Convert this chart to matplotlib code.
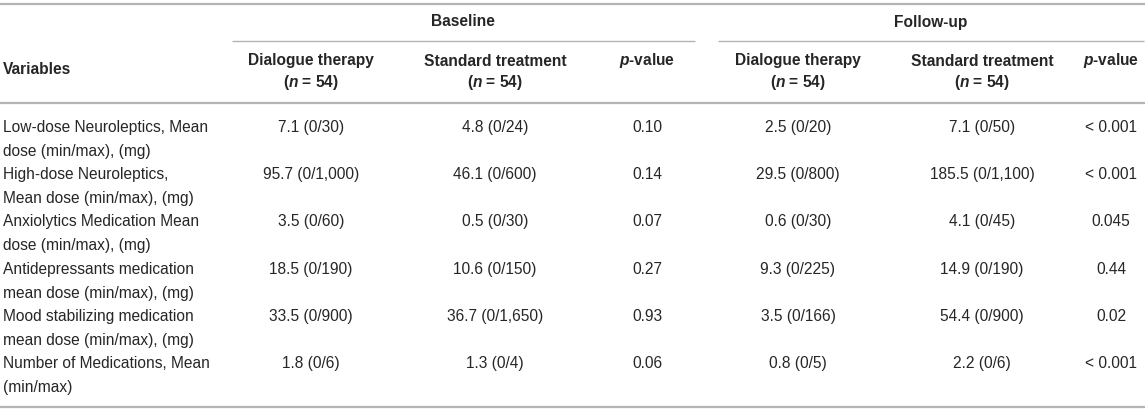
import matplotlib.pyplot as plt

plt.rcParams['font.family'] = ['Liberation Sans', 'DejaVu Sans']
plt.rcParams['mathtext.fontset'] = 'custom'
plt.rcParams['mathtext.it'] = 'Liberation Sans:italic:bold'
plt.rcParams['mathtext.rm'] = 'Liberation Sans:bold'

# table content
groups = ['Baseline', 'Follow-up']
col_heads = ['Dialogue therapy\n($\\mathit{n}$ = 54)', 'Standard treatment\n($\\mathit{n}$ = 54)', '$\\mathit{p}$-value']
variables = [
    'Low-dose Neuroleptics, Mean\ndose (min/max), (mg)',
    'High-dose Neuroleptics,\nMean dose (min/max), (mg)',
    'Anxiolytics Medication Mean\ndose (min/max), (mg)',
    'Antidepressants medication\nmean dose (min/max), (mg)',
    'Mood stabilizing medication\nmean dose (min/max), (mg)',
    'Number of Medications, Mean\n(min/max)',
]
base_dialogue = ['7.1 (0/30)', '95.7 (0/1,000)', '3.5 (0/60)', '18.5 (0/190)', '33.5 (0/900)', '1.8 (0/6)']
base_standard = ['4.8 (0/24)', '46.1 (0/600)', '0.5 (0/30)', '10.6 (0/150)', '36.7 (0/1,650)', '1.3 (0/4)']
base_p = ['0.10', '0.14', '0.07', '0.27', '0.93', '0.06']
fu_dialogue = ['2.5 (0/20)', '29.5 (0/800)', '0.6 (0/30)', '9.3 (0/225)', '3.5 (0/166)', '0.8 (0/5)']
fu_standard = ['7.1 (0/50)', '185.5 (0/1,100)', '4.1 (0/45)', '14.9 (0/190)', '54.4 (0/900)', '2.2 (0/6)']
fu_p = ['< 0.001', '< 0.001', '0.045', '0.44', '0.02', '< 0.001']

W, H = 1145, 411
fig = plt.figure(figsize=(W / 100, H / 100), dpi=100)
ax = fig.add_axes([0, 0, 1, 1])
ax.set_xlim(0, W)
ax.set_ylim(H, 0)
ax.axis('off')

txt = '#262626'
rule = '#b4b4b4'
fs = 11.2

# layout (pixels)
col_x = [311, 495, 647, 798, 982, 1111]
group_x = [463, 931]
group_span = [(232, 695), (718, 1144)]
row_y = [127, 174, 221, 269, 316, 363]
dy = 24

# rules
ax.plot([0, W], [4, 4], color=rule, lw=1.6, solid_capstyle='butt')
ax.plot([0, W], [103, 103], color=rule, lw=1.6, solid_capstyle='butt')
ax.plot([0, W], [407, 407], color=rule, lw=1.6, solid_capstyle='butt')
for a, b in group_span:
    ax.plot([a, b], [41, 41], color=rule, lw=1.0, solid_capstyle='butt')

# header
for g, gx in zip(groups, group_x):
    ax.text(gx, 22, g, ha='center', va='center', fontsize=fs, fontweight='bold', color=txt)
ax.text(3, 70, 'Variables', ha='left', va='center', fontsize=fs, fontweight='bold', color=txt)
for i, cx in enumerate(col_x):
    lines = col_heads[i % 3].split('\n')
    for k, ln in enumerate(lines):
        ax.text(cx, 61 + k * 21.5, ln, ha='center', va='center', fontsize=fs, fontweight='bold', color=txt)

# body
columns = [base_dialogue, base_standard, base_p, fu_dialogue, fu_standard, fu_p]
for r, y in enumerate(row_y):
    for k, ln in enumerate(variables[r].split('\n')):
        ax.text(3, y + k * dy, ln, ha='left', va='center', fontsize=fs, color=txt)
    for cx, col in zip(col_x, columns):
        ax.text(cx, y, col[r], ha='center', va='center', fontsize=fs, color=txt)

fig.savefig('out.png', dpi=100)
